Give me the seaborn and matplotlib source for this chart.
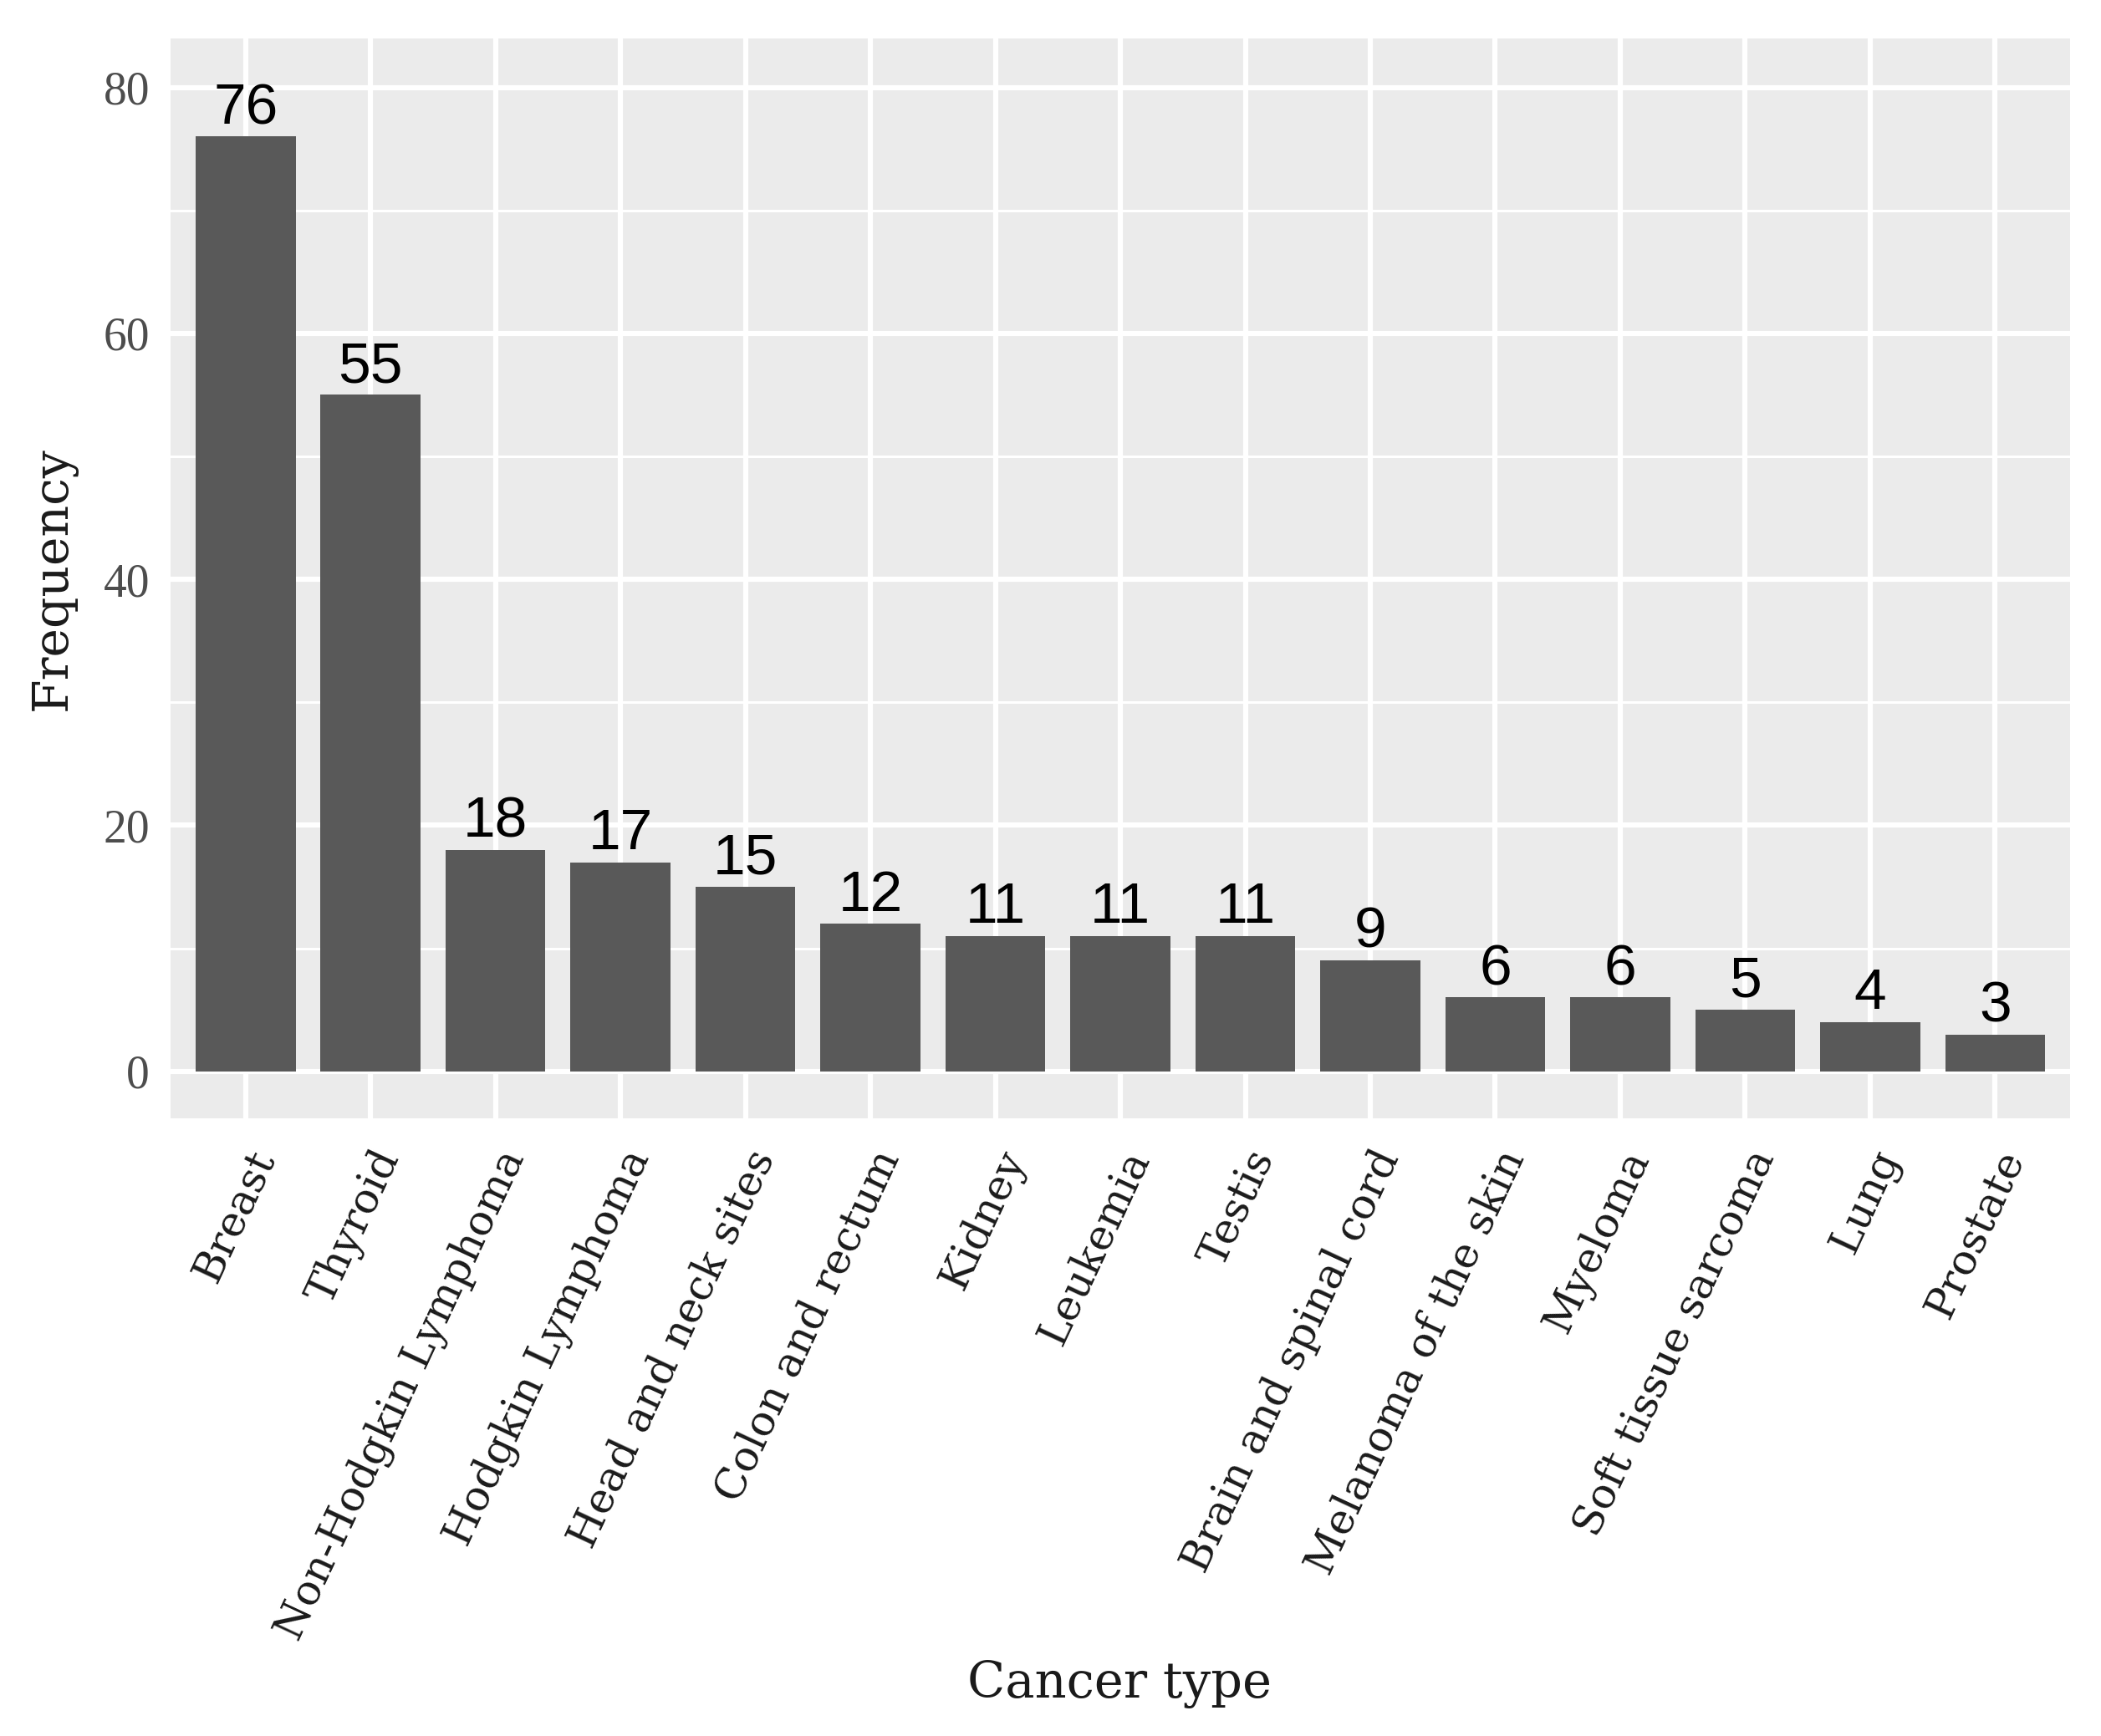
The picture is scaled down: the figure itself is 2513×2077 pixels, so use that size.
import matplotlib
matplotlib.use("Agg")
import matplotlib.pyplot as plt
import pandas as pd
import seaborn as sns
from matplotlib.ticker import MultipleLocator


CANCER_TYPES = [
    "Breast",
    "Thyroid",
    "Non-Hodgkin Lymphoma",
    "Hodgkin Lymphoma",
    "Head and neck sites",
    "Colon and rectum",
    "Kidney",
    "Leukemia",
    "Testis",
    "Brain and spinal cord",
    "Melanoma of the skin",
    "Myeloma",
    "Soft tissue sarcoma",
    "Lung",
    "Prostate",
]
FREQUENCIES = [76, 55, 18, 17, 15, 12, 11, 11, 11, 9, 6, 6, 5, 4, 3]
Y_TICKS = [0, 20, 40, 60, 80]

PANEL_BG = "#EBEBEB"
BAR_COLOR = "#595959"
SERIF = ["Liberation Serif", "DejaVu Serif"]
WIDE_SERIF = ["DejaVu Serif"]
SANS = ["Liberation Sans", "DejaVu Sans"]


def main():
    sns.set_theme(style="white")
    plt.rcParams["font.family"] = SERIF

    data = pd.DataFrame({"Cancer type": CANCER_TYPES, "Frequency": FREQUENCIES})

    figure = plt.figure(figsize=(12.565, 10.385), dpi=200)
    axis = figure.add_axes([0.0812, 0.356, 0.9041, 0.622])
    axis.set_facecolor(PANEL_BG)

    sns.barplot(
        data=data,
        x="Cancer type",
        y="Frequency",
        order=CANCER_TYPES,
        color=BAR_COLOR,
        saturation=1,
        width=0.8,
        ax=axis,
        zorder=3,
    )
    for patch in axis.patches:
        patch.set_facecolor(BAR_COLOR)
        patch.set_edgecolor("none")

    for position, value in enumerate(FREQUENCIES):
        axis.annotate(
            str(value),
            (position, value),
            textcoords="offset points",
            xytext=(0, 0.5),
            ha="center",
            va="bottom",
            fontsize=25,
            family=SANS,
            color="black",
            zorder=4,
        )

    axis.set_xlim(-0.6, len(CANCER_TYPES) - 0.4)
    axis.set_ylim(-3.8, 84.0)
    axis.yaxis.set_major_locator(MultipleLocator(20))
    axis.yaxis.set_minor_locator(MultipleLocator(10))
    axis.set_yticks(Y_TICKS)

    axis.grid(which="major", axis="both", color="white", linewidth=2.2, zorder=0)
    axis.grid(which="minor", axis="y", color="white", linewidth=1.1, zorder=0)
    axis.set_axisbelow(True)
    for spine in axis.spines.values():
        spine.set_visible(False)

    axis.tick_params(axis="both", which="major", length=5, width=1.6, color="#333333")
    axis.tick_params(axis="both", which="minor", length=0)
    axis.tick_params(axis="y", labelsize=20, labelcolor="#4D4D4D", pad=4)
    axis.tick_params(axis="x", pad=6)
    axis.set_xticks(range(len(CANCER_TYPES)))
    axis.set_xticklabels(
        CANCER_TYPES,
        rotation=65,
        ha="right",
        va="top",
        rotation_mode="anchor",
        fontsize=18.2,
        family=WIDE_SERIF,
        color="#1A1A1A",
    )

    axis.set_xlabel("")
    axis.set_ylabel("")
    figure.text(0.0255, 0.667, "Frequency", rotation=90, ha="center", va="center",
                fontsize=21, family=WIDE_SERIF, color="#1A1A1A")
    figure.text(0.533, 0.030, "Cancer type", ha="center", va="center",
                fontsize=21.3, family=WIDE_SERIF, color="#1A1A1A")

    figure.savefig("out.png", dpi=200, facecolor="white")
    plt.close(figure)


if __name__ == "__main__":
    main()
